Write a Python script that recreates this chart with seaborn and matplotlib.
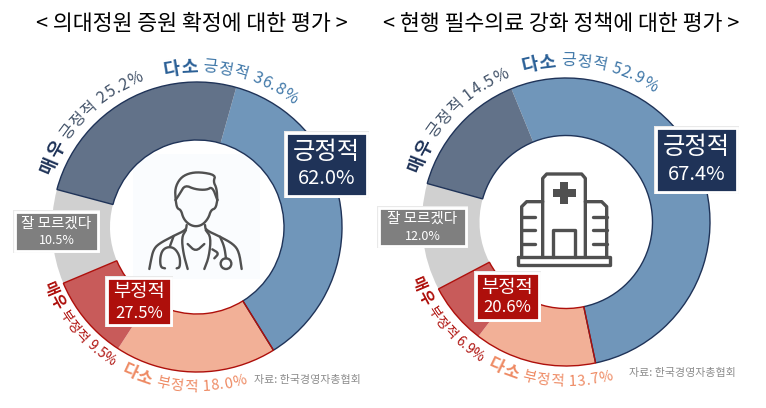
import numpy as np
import matplotlib
matplotlib.use("Agg")
import matplotlib.pyplot as plt
import seaborn as sns
from matplotlib.patches import Rectangle, Circle, Polygon
from matplotlib.font_manager import FontProperties
from matplotlib.textpath import TextPath

sns.set_theme(style="white")
FONT = ["Noto Sans CJK KR", "DejaVu Sans"]
plt.rcParams["font.family"] = FONT

# survey shares, clockwise from the "somewhat positive" slice
slice_names = ["다소 긍정적", "다소 부정적", "매우 부정적", "잘 모르겠다", "매우 긍정적"]
quota_values = [36.8, 18.0, 9.5, 10.5, 25.2]
policy_values = [52.9, 13.7, 6.9, 12.0, 14.5]
quota_groups = [62.0, 27.5, 10.5]
policy_groups = [67.4, 20.6, 12.0]
quota_title = "< 의대정원 증원 확정에 대한 평가 >"
policy_title = "< 현행 필수의료 강화 정책에 대한 평가 >"
source_text = "자료: 한국경영자총협회"

slice_colors = sns.color_palette(["#7096BA", "#F2B097", "#C85B5A", "#D0D0D0", "#627289"])
NAVY, RED, GREY = "#1F3358", "#AE0F0B", "#7F7F7F"
SKY_BOLD, SKY = "#2A5F96", "#3F77A8"
CORAL = "#EE8A63"
ICON = "#505050"

W, H = 766, 408
fig = plt.figure(figsize=(W / 100, H / 100), dpi=100)
ax = fig.add_axes([0, 0, 1, 1])


def ring(values, groups, cx, cy, R, r, first_deg):
    """Five-slice donut plus a thin outline around each opinion group."""
    ax.pie(values, colors=slice_colors, startangle=90 - first_deg, counterclock=False,
           radius=R, center=(cx, H - cy), frame=False,
           wedgeprops=dict(width=R - r, linewidth=0, zorder=2))
    # the positive group begins at the "very positive" slice, the last one listed
    group_start = first_deg - values[4] * 3.6
    wedges, _ = ax.pie(groups, colors=["none"] * 3, startangle=90 - group_start, counterclock=False,
                       radius=R, center=(cx, H - cy), frame=False,
                       wedgeprops=dict(width=R - r, linewidth=1.0, zorder=3))
    wedges[0].set_edgecolor(NAVY)
    wedges[1].set_edgecolor(RED)
    wedges[2].set_edgecolor("none")
    wedges[2].set_linewidth(0)
    wedges[1].set_zorder(4)


def advance(ch, prop, size):
    probe = TextPath((0, 0), "|" + ch + "|", size=size, prop=prop).get_extents().width
    base = TextPath((0, 0), "||", size=size, prop=prop).get_extents().width
    return probe - base


def arc_label(runs, cx, cy, radius, mid_deg, size, upright_top=True, track=0.0, bold_scale=1.14):
    """Place text one glyph at a time along a circle around (cx, cy)."""
    items = []
    for text, weight, color in runs:
        pt = size * bold_scale if weight == "bold" else size
        prop = FontProperties(family=FONT[0], weight=weight)
        for ch in text:
            items.append((ch, weight, color, pt, advance(ch, prop, pt * 100 / 72) + track))
    total = sum(i[4] for i in items)
    direction = 1 if upright_top else -1
    theta = mid_deg - direction * np.degrees(total / 2 / radius)
    for ch, weight, color, pt, adv in items:
        step = np.degrees(adv / radius)
        a = theta + direction * step / 2
        x = cx + radius * np.sin(np.radians(a))
        y = H - cy + radius * np.cos(np.radians(a))
        rot = -a if upright_top else 180 - a
        ax.text(x, y, ch, fontsize=pt, fontweight=weight, color=color, rotation=rot,
                rotation_mode="anchor", ha="center", va="center", zorder=6, family=FONT)
        theta += direction * step


def badge(x0, y0, x1, y1, color, head, value, head_size, value_size, head_dy, value_dy):
    ax.add_patch(Rectangle((x0 - 1, H - y1 - 1), x1 - x0 + 2, y1 - y0 + 2, fc="#E9E9E9", ec="none", zorder=7))
    ax.add_patch(Rectangle((x0 + 1, H - y1 + 1), x1 - x0 - 2, y1 - y0 - 2, fc=color, ec="white", lw=2.0, zorder=8))
    mid = (x0 + x1) / 2
    ax.text(mid, H - (y0 + head_dy), head, color="white", fontsize=head_size, ha="center", va="center", zorder=9)
    ax.text(mid, H - (y0 + value_dy), value, color="white", fontsize=value_size, ha="center", va="center", zorder=9)


def smooth(points, rounds=2):
    pts = np.asarray(points, float)
    for _ in range(rounds):
        q = 0.75 * pts[:-1] + 0.25 * pts[1:]
        s = 0.25 * pts[:-1] + 0.75 * pts[1:]
        mid = np.empty((len(q) * 2, 2))
        mid[0::2], mid[1::2] = q, s
        pts = np.vstack([pts[0], mid, pts[-1]])
    return pts


def stroke(points, ox, oy, lw=2.0, curved=True):
    pts = smooth(points) if curved else np.asarray(points, float)
    ax.plot(ox + pts[:, 0] / 3, H - (oy + pts[:, 1] / 3), color=ICON, lw=lw,
            solid_capstyle="round", solid_joinstyle="round", zorder=5)


def doctor_icon(ox, oy):
    paths = [
        [(152, 150), (150, 115), (165, 85), (190, 70), (225, 66), (272, 75), (265, 95), (275, 115), (277, 150)],
        [(152, 150), (165, 130), (180, 105), (210, 118), (245, 120), (262, 110), (277, 150)],
        [(152, 150), (156, 175), (168, 180), (175, 205), (190, 222), (210, 230), (232, 225), (250, 205), (258, 180), (272, 175), (277, 150)],
        [(185, 225), (183, 240), (145, 258), (100, 282), (85, 300), (78, 330), (73, 357)],
        [(240, 225), (242, 240), (285, 260), (325, 282), (342, 305), (350, 357)],
        [(183, 240), (170, 262), (175, 310), (188, 357)],
        [(242, 240), (258, 262), (252, 320), (238, 357)],
        [(188, 282), (212, 305), (238, 282)],
        [(146, 258), (135, 288)],
        [(120, 355), (107, 352), (105, 325), (112, 300), (130, 290), (150, 295), (165, 320), (165, 352), (155, 355)],
        [(285, 260), (298, 290), (303, 325)],
        [(262, 298), (282, 310), (268, 325)],
    ]
    for p in paths:
        stroke(p, ox, oy, lw=1.7)
    ax.add_patch(Circle((ox + 303 / 3, H - (oy + 341 / 3)), 16 / 3, fc="none", ec=ICON, lw=1.7, zorder=5))


def hospital_icon(ox, oy):
    paths = [
        [(113, 290), (113, 55), (125, 42), (230, 42), (241, 55), (241, 290)],
        [(113, 125), (65, 125), (50, 140), (50, 290)],
        [(241, 125), (290, 125), (305, 140), (305, 290)],
        [(145, 290), (145, 210), (210, 210), (210, 290)],
        [(50, 170), (90, 170)], [(50, 210), (90, 210)], [(50, 252), (90, 252)],
        [(264, 170), (305, 170)], [(264, 210), (305, 210)], [(264, 252), (305, 252)],
        [(40, 292), (315, 292), (315, 315), (40, 315), (40, 292)],
    ]
    for p in paths:
        stroke(p, ox, oy, lw=2.4, curved=False)
    cross = [(166, 67), (189, 67), (189, 87), (212, 87), (212, 110), (189, 110), (189, 132),
             (166, 132), (166, 110), (143, 110), (143, 87), (166, 87)]
    ax.add_patch(Polygon([(ox + a / 3, H - (oy + b / 3)) for a, b in cross], fc=ICON, ec="none", zorder=5))


# pale panel behind the doctor icon
ax.add_patch(Rectangle((133, H - 279), 127, 125, fc="#FAFCFE", ec="none", zorder=1))

ring(quota_values, quota_groups, 197, 227, 145, 87, 15.7)
ring(policy_values, policy_groups, 566, 222, 144, 86.5, -22.3)

ax.set_xlim(0, W)
ax.set_ylim(0, H)
ax.set_aspect("equal")
ax.axis("off")

ax.text(191.5, H - 24, quota_title, fontsize=15.6, color="black", ha="center", va="center", fontweight="medium")
ax.text(561, H - 24, policy_title, fontsize=15.6, color="black", ha="center", va="center", fontweight="medium")


def pct(value):
    return f" {value:.1f}%"


# left donut labels
arc_label([("매우", "bold", NAVY), (" 긍정적" + pct(quota_values[4]), "regular", "#44546A")], 197, 227, 160, -45.2, 11.5, track=0.9)
arc_label([("다소", "bold", SKY_BOLD), (" 긍정적" + pct(quota_values[0]), "regular", SKY)], 197, 227, 160, 13.0, 11.5, track=0.9)
arc_label([("다소", "bold", CORAL), (" 부정적" + pct(quota_values[1]), "regular", CORAL)], 197, 227, 160, 184.9, 10.5, upright_top=False, track=0.7)
arc_label([("매우", "bold", RED), (" 부정적" + pct(quota_values[2]), "regular", RED)], 197, 227, 159, 230.5, 9.8, upright_top=False, track=0.3)

# right donut labels
arc_label([("매우", "bold", NAVY), (" 긍정적" + pct(policy_values[4]), "regular", "#44546A")], 566, 222, 160, -46.5, 11.5, track=0.9)
arc_label([("다소", "bold", SKY_BOLD), (" 긍정적" + pct(policy_values[0]), "regular", SKY)], 566, 222, 161, 9.0, 11.5, track=0.9)
arc_label([("다소", "bold", CORAL), (" 부정적" + pct(policy_values[1]), "regular", CORAL)], 566, 222, 160, 185.9, 10.5, upright_top=False, track=0.7)
arc_label([("매우", "bold", RED), (" 부정적" + pct(policy_values[2]), "regular", RED)], 566, 222, 160, 230.5, 9.8, upright_top=False, track=0.3)

# group badges
badge(285, 132, 368, 197, NAVY, "긍정적", f"{quota_groups[0]:.1f}%", 17.5, 14.5, 20, 47)
badge(106, 277, 172, 326, RED, "부정적", f"{quota_groups[1]:.1f}%", 13.5, 12, 15, 36)
badge(14, 211, 99, 252, GREY, slice_names[3], f"{quota_values[3]:.1f}%", 10.5, 9, 13, 30)
badge(655, 127, 738, 193, NAVY, "긍정적", f"{policy_groups[0]:.1f}%", 17.5, 14.5, 20, 47)
badge(475, 272, 540, 321, RED, "부정적", f"{policy_groups[1]:.1f}%", 13.5, 12, 15, 36)
badge(378, 207, 467, 247, GREY, slice_names[3], f"{policy_values[3]:.1f}%", 10.5, 9, 12, 30)

doctor_icon(125, 150)
hospital_icon(505, 160)

ax.text(307.5, H - 380, source_text, fontsize=7.9, color="#8C8C8C", ha="center", va="center")
ax.text(682, H - 373, source_text, fontsize=7.9, color="#8C8C8C", ha="center", va="center")

fig.savefig("out.png", dpi=100, facecolor="white")
